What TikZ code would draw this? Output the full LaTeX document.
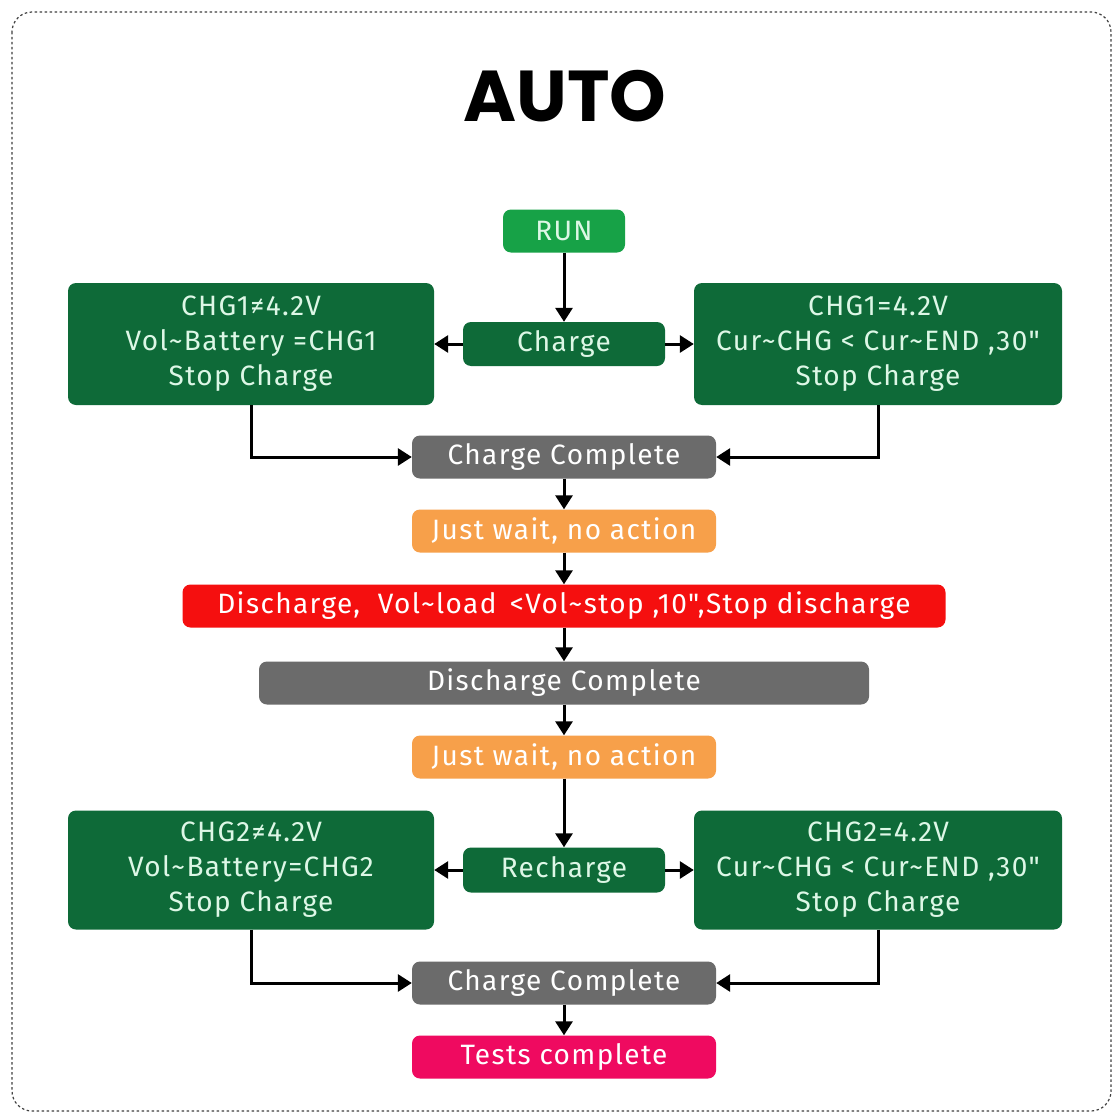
\documentclass[tikz,border=0pt]{standalone}
\usepackage{fontspec}
\setmainfont{Fira Sans}[LetterSpace=5, Ligatures=TeXOff]
\newfontfamily\titlefont{Poppins}
\usetikzlibrary{arrows.meta}
\definecolor{dkgreen}{HTML}{0E6A38}
\definecolor{rungreen}{HTML}{17A247}
\definecolor{boxgray}{HTML}{6B6B6B}
\definecolor{boxorange}{HTML}{F7A04A}
\definecolor{boxred}{HTML}{F50F0F}
\definecolor{boxpink}{HTML}{EF0A60}
\definecolor{mint}{HTML}{DDF7E6}
\tikzset{
  box/.style={rounded corners=8pt, inner sep=0pt, align=center, font=\fontsize{28}{35}\selectfont, text=white},
  gbox/.style={box, fill=dkgreen, text=mint},
  arr/.style={line width=3pt, -{Triangle[length=14pt,width=17pt]}},
}
\begin{document}
\begin{tikzpicture}[x=1pt,y=-1pt]
\useasboundingbox (0,0) rectangle (1113,1113);
\fill[white] (0,0) rectangle (1113,1113);
\draw[black!75, line width=1.2pt, dash pattern=on 2.5pt off 2.5pt, rounded corners=20pt] (12,12) rectangle (1111,1111);
\node (title) at (565,96) {\titlefont\bfseries\fontsize{72}{74}\selectfont AUTO};
\node[box, fill=rungreen, text=mint, minimum width=122pt, minimum height=43pt] (run) at (564,231) {RUN};
\node[gbox, minimum width=202pt, minimum height=44pt] (charge) at (564,344) {Charge};
\node[gbox, minimum width=366pt, minimum height=122pt] (lt) at (251,344) {CHG1≠4.2V\\Vol\char`\~Battery =CHG1\\Stop Charge};
\node[gbox, minimum width=368pt, minimum height=122pt] (rt) at (878,344) {CHG1=4.2V\\Cur\char`\~CHG < Cur\char`\~END ,30"\\Stop Charge};
\node[box, fill=boxgray, minimum width=304pt, minimum height=43pt] (cc1) at (564,457) {Charge Complete};
\node[box, fill=boxorange, minimum width=304pt, minimum height=43pt] (w1) at (564,531) {Just wait, no action};
\node[box, fill=boxred, minimum width=763pt, minimum height=43pt] (dis) at (564,606) {Discharge,\ \ Vol\char`\~load \,<Vol\char`\~stop ,10",Stop discharge};
\node[box, fill=boxgray, minimum width=610pt, minimum height=43pt] (dc) at (564,683) {Discharge Complete};
\node[box, fill=boxorange, minimum width=304pt, minimum height=43pt] (w2) at (564,757) {Just wait, no action};
\node[gbox, minimum width=202pt, minimum height=45pt] (rec) at (564,870) {Recharge};
\node[gbox, minimum width=366pt, minimum height=119pt] (lb) at (251,870) {CHG2≠4.2V\\Vol\char`\~Battery=CHG2\\Stop Charge};
\node[gbox, minimum width=368pt, minimum height=119pt] (rb) at (878,870) {CHG2=4.2V\\Cur\char`\~CHG < Cur\char`\~END ,30"\\Stop Charge};
\node[box, fill=boxgray, minimum width=304pt, minimum height=43pt] (cc2) at (564,983) {Charge Complete};
\node[box, fill=boxpink, minimum width=304pt, minimum height=43pt] (tc) at (564,1057) {Tests complete};
\draw[arr] (run) -- (charge);
\draw[arr] (charge) -- (lt);
\draw[arr] (charge) -- (rt);
\draw[arr] (lt.south) |- (cc1.west);
\draw[arr] (rt.south) |- (cc1.east);
\draw[arr] (cc1) -- (w1);
\draw[arr] (w1) -- (dis);
\draw[arr] (dis) -- (dc);
\draw[arr] (dc) -- (w2);
\draw[arr] (w2) -- (rec);
\draw[arr] (rec) -- (lb);
\draw[arr] (rec) -- (rb);
\draw[arr] (lb.south) |- (cc2.west);
\draw[arr] (rb.south) |- (cc2.east);
\draw[arr] (cc2) -- (tc);
\end{tikzpicture}
\end{document}
